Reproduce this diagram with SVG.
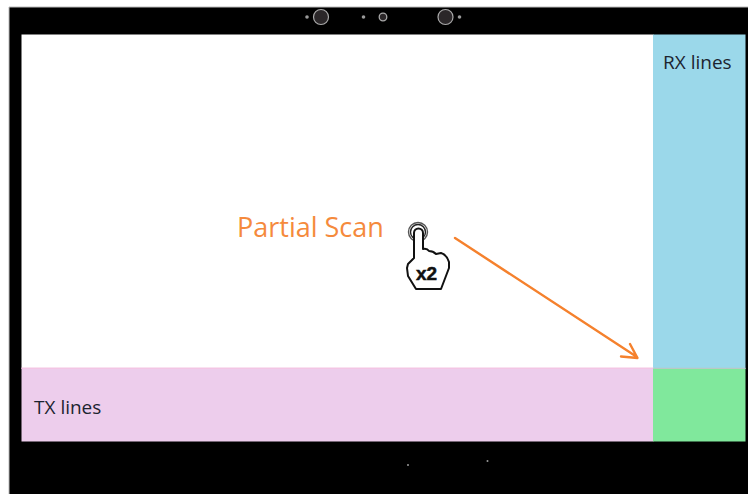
<svg xmlns="http://www.w3.org/2000/svg" width="748" height="494" viewBox="0 0 748 494">
<style>
.lbl{font-family:"Open Sans","Noto Sans","Liberation Sans",sans-serif;font-size:19px;fill:#1c2430}
.cam{fill:#2b2729;stroke:#a9a9a9}
.dot{fill:#9a9a9a}
.ink{fill:none;stroke-linejoin:round;stroke-linecap:round}
</style>
<rect width="748" height="494" fill="#fff"/>
<g id="bezel">
<rect x="9" y="7" width="739" height="487" fill="#000"/>
<rect x="9" y="6.500" width="739" height="1" fill="#bbb"/>
<rect x="8.500" y="7" width="1" height="487" fill="#bbb"/>
<rect x="21.500" y="34.500" width="632" height="334" fill="#fff"/>
<circle class="cam" cx="321" cy="17" r="7.500" stroke-width="1.200"/>
<circle class="cam" cx="383" cy="17" r="3.800" stroke-width="1.300"/>
<circle class="cam" cx="445.500" cy="17" r="7.500" stroke-width="1.200"/>
<circle class="dot" cx="307" cy="17" r="1.800"/>
<circle class="dot" cx="363.500" cy="17" r="1.800"/>
<circle class="dot" cx="459.500" cy="17" r="1.800"/>
<circle class="dot" cx="408" cy="465" r="1"/>
<circle class="dot" cx="487.500" cy="461" r="1"/>
</g>
<g id="rx-lines">
<rect x="653" y="34.500" width="92.500" height="334.500" fill="#9bd8ea"/>
<text class="lbl" x="663" y="69">RX lines</text>
</g>
<g id="tx-lines">
<rect x="21.500" y="368" width="632" height="73.500" fill="#edcdec"/>
<rect x="21.500" y="367.500" width="632" height="1.500" fill="#f3c5e4"/>
<text class="lbl" x="34" y="414">TX lines</text>
</g>
<g id="overlap">
<rect x="653" y="368.500" width="92.500" height="73" fill="#80e89c"/>
<rect x="653" y="367.800" width="92.500" height="1.200" fill="#b9c9c4"/>
</g>
<g id="partial-scan">
<text x="237" y="237" font-family="'Open Sans','Noto Sans','Liberation Sans',sans-serif" font-size="27" fill="#f58a3c">Partial Scan</text>
</g>
<g id="hand">
<circle class="ink" cx="418" cy="232" r="9.500" stroke-width="1.400" stroke="#555"/>
<circle class="ink" cx="418" cy="232" r="7.500" stroke-width="1.400" stroke="#222"/>
<path d="M408 276L416 289H441L449 268L449 262Q447 255 441 253L436 254Q433 251 429 251Q427 248 423 249V233A4.500 4.500 0 0 0 414 233V258L408 264L407 268Z" fill="#fff" stroke="#111" stroke-width="2" stroke-linejoin="round"/>
<text x="416" y="280" font-family="'Liberation Sans',sans-serif" font-weight="700" font-size="19" fill="#111" stroke="#111" stroke-width="0.500">x2</text>
</g>
<g id="connectors">
<path d="M455 238L637 357M621 356.500L637.500 358L630 344" fill="none" stroke="#f5812d" stroke-width="2.400" stroke-linecap="round" stroke-linejoin="round"/>
</g>
</svg>
